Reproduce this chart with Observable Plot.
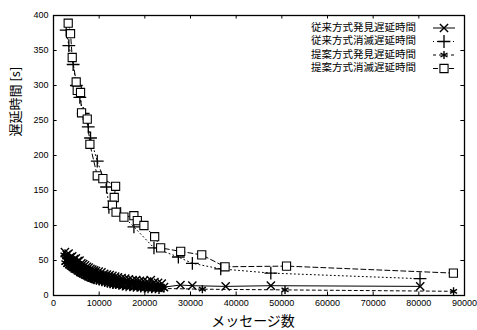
<!DOCTYPE html>
<html><head><meta charset="utf-8">
<script src="https://cdn.jsdelivr.net/npm/d3@7"></script>
<script src="https://cdn.jsdelivr.net/npm/@observablehq/plot@0.6"></script>
<style>
html,body{margin:0;padding:0;background:#fff;}
#wrap{position:relative;width:477px;height:330px;}
#legend{position:absolute;left:0;top:0;}
</style></head>
<body><div id="wrap"></div>
<script>
const xTicks = [0,10000,20000,30000,40000,50000,60000,70000,80000,90000];
const yTicks = [0,50,100,150,200,250,300,350,400];
const xLabel = "メッセージ数";
const yLabel = "遅延時間 [s]";
const seriesNames = ["従来方式発見遅延時間","従来方式消滅遅延時間","提案方式発見遅延時間","提案方式消滅遅延時間"];

// 従来方式発見遅延時間 (×)
const convDiscovery = [[2500,62],[2700,50],[2900,58],[3100,47],[3300,60],[3500,45],[3700,55],[3900,44],[4100,56],[4300,42],[4500,52],[4700,40],[4900,53],[5100,39],[5300,49],[5500,37],[5700,50],[5900,35],[6100,46],[6300,33],[6500,45],[6700,32],[6900,43],[7100,30],[7300,41],[7500,29],[7700,40],[7900,28],[8100,38],[8300,26],[8500,37],[8700,25],[8900,36],[9100,24],[9300,35],[9600,23],[9900,34],[10200,22],[10500,33],[10800,21],[11100,31],[11400,20],[11700,30],[12000,19],[12300,29],[12600,18],[12900,28],[13200,17],[13500,27],[13800,16],[14100,26],[14500,16],[14900,25],[15300,15],[15700,24],[16100,14],[16500,23],[16900,14],[17300,22],[17700,13],[18100,22],[18500,13],[18900,21],[19300,12],[19700,21],[20100,12],[20500,20],[20900,11],[21300,22],[21700,12],[22100,19],[22500,11],[22900,18],[23300,11],[23700,17],[24200,12],[27800,15],[30400,14],[37700,13],[47600,14],[80300,13]];
// 従来方式消滅遅延時間 (+)
const convDisappear = [[2780,379],[3360,357],[4300,330],[5000,300],[5770,283],[6510,260],[7610,241],[8110,225],[9580,192],[11620,155],[12130,126],[14690,117],[17610,98],[22000,68],[27340,55],[30410,46],[36620,38],[47590,32],[80260,24]];
// 提案方式発見遅延時間 (*)
const propDiscovery = [[2300,58],[2500,47],[2700,55],[2900,44],[3100,53],[3300,42],[3500,51],[3700,40],[3900,50],[4100,38],[4300,48],[4500,36],[4700,47],[4900,35],[5100,45],[5300,33],[5500,44],[5700,31],[5900,42],[6100,30],[6300,40],[6500,29],[6700,39],[6900,27],[7100,37],[7300,26],[7500,36],[7700,25],[7900,34],[8100,24],[8300,33],[8500,23],[8700,32],[8900,22],[9100,31],[9400,21],[9700,30],[10000,20],[10300,29],[10600,19],[10900,28],[11200,18],[11500,27],[11800,17],[12100,26],[12400,16],[12700,25],[13000,15],[13300,24],[13600,15],[13900,23],[14300,14],[14700,22],[15100,13],[15500,21],[15900,12],[16300,20],[16700,12],[17100,19],[17500,11],[17900,19],[18300,11],[18700,18],[19100,10],[19500,17],[19900,10],[20300,17],[20700,9],[21100,16],[21500,9],[21900,15],[22300,9],[22700,14],[23100,8],[23600,13],[24200,10],[32600,9],[50700,8],[87600,6]];
// 提案方式消滅遅延時間 (□)
const propDisappear = [[3220,389],[3730,374],[4100,340],[4970,305],[5200,293],[5920,290],[6140,261],[7390,252],[7970,216],[9580,171],[10810,167],[13600,156],[13300,140],[12900,129],[13700,119],[15420,112],[17600,114],[18350,107],[19800,100],[22150,84],[23460,68],[27850,63],[32460,58],[37570,41],[51030,42],[87570,32]];

const styles = [
  {data: convDiscovery, symbol: "times", dash: null, r: 3.8, sw: 1.4},
  {data: convDisappear, symbol: "plus", dash: "1,3", r: 4.2, sw: 1.3},
  {data: propDiscovery, symbol: "asterisk", dash: "3,3", r: 3.8, sw: 1.4},
  {data: propDisappear, symbol: "square", dash: "5,3", r: 4.6, sw: 1.1}
];
const cjk = "'Noto Sans CJK JP', sans-serif";

const marks = [];
// inward ticks
marks.push(Plot.ruleX(xTicks.slice(1,-1), {x: d=>d, y1: 0, y2: 5, stroke: "#000"}));
marks.push(Plot.ruleX(xTicks.slice(1,-1), {x: d=>d, y1: 400, y2: 395, stroke: "#000"}));
marks.push(Plot.ruleY(yTicks.slice(1,-1), {y: d=>d, x1: 0, x2: 800, stroke: "#000"}));
marks.push(Plot.ruleY(yTicks.slice(1,-1), {y: d=>d, x1: 90000, x2: 89200, stroke: "#000"}));
for (const s of styles) {
  marks.push(Plot.line(s.data, {x: d=>d[0], y: d=>d[1], stroke: "#000", strokeWidth: 1, strokeDasharray: s.dash}));
}
for (const s of styles) {
  marks.push(Plot.dot(s.data, {x: d=>d[0], y: d=>d[1], symbol: () => s.symbol, r: s.r, stroke: "#000", strokeWidth: s.sw, fill: s.symbol === "square" ? "#fff" : "none"}));
}
marks.push(Plot.frame({stroke: "#000", strokeWidth: 1.3}));
marks.push(Plot.axisX({ticks: xTicks, tickSize: 0, tickPadding: 4, label: null, tickFormat: d => String(d), fontSize: 9}));
marks.push(Plot.axisY({ticks: yTicks, tickSize: 0, tickPadding: 5, label: null, fontSize: 9}));
marks.push(Plot.text([xLabel], {frameAnchor: "bottom", dy: 30, dx: -6, text: d=>d, fontSize: 14, fill: "#000", fontFamily: cjk}));
marks.push(Plot.text([yLabel], {frameAnchor: "left", rotate: -90, dx: -38, dy: -19, text: d=>d, fontSize: 13, fill: "#000", fontFamily: cjk}));

const chart = Plot.plot({
  width: 477, height: 330,
  marginLeft: 53, marginRight: 13, marginTop: 15, marginBottom: 35,
  x: {domain: [0, 90000]},
  y: {domain: [0, 400]},
  style: {fontFamily: "'Liberation Sans', sans-serif", fontSize: "9px", color: "#000", background: "#fff"},
  marks
});
const wrap = document.getElementById("wrap");
wrap.appendChild(chart);

// legend
const lg = d3.select(wrap).append("svg").attr("id","legend").attr("width",477).attr("height",100)
  .style("font-family", cjk);
const rowsY = [28, 41.5, 55, 68.5];
const symMap = {times: d3.symbolTimes, plus: d3.symbolPlus, asterisk: d3.symbolAsterisk, square: d3.symbolSquare};
styles.forEach((s, i) => {
  const y = rowsY[i];
  lg.append("text").attr("x", 416).attr("y", y).attr("text-anchor","end").attr("dominant-baseline","middle")
    .attr("font-size", 10.5).attr("fill","#000").text(seriesNames[i]);
  lg.append("line").attr("x1", 433).attr("x2", 455).attr("y1", y).attr("y2", y)
    .attr("stroke","#000").attr("stroke-width",1).attr("stroke-dasharray", s.dash);
  lg.append("path").attr("transform", `translate(444,${y})`)
    .attr("d", d3.symbol(symMap[s.symbol], Math.PI * s.r * s.r)())
    .attr("stroke","#000").attr("stroke-width",s.sw).attr("fill", s.symbol === "square" ? "#fff" : "none");
});
</script></body></html>
